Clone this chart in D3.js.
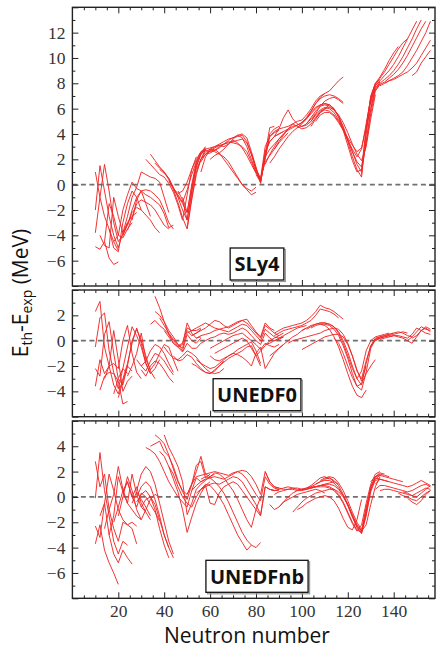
<!DOCTYPE html>
<html>
<head>
<meta charset="utf-8">
<script src="https://cdn.jsdelivr.net/npm/d3@7"></script>
<style>
  body { margin: 0; background: #fff; }
  .axisText { font-family: "Open Sans", sans-serif; fill: #111; }
</style>
</head>
<body>
<div id="chart"></div>
<script>
var svgWidth = 438;
var svgHeight = 648;

// Neutron number axis
var nDomain = [0, 158];
var xTickLabels = [20, 40, 60, 80, 100, 120, 140];

// Each chain: [first neutron number, residuals every 2 neutrons]
var sly4Chains = [
  [10, [1.0, -1.0, -2.5, -3.5, -4.5, -5.2]],
  [10, [-2.0, 1.5, -0.5, -2.5, -4.0, -5.0, -3.8]],
  [10, [-3.8, -1.0, 1.6, -0.5, -3.0, -4.5, -4.0, -3.0]],
  [10, [-4.9, -5.1, -4.5, -1.5, -2.5, -4.0, -4.2, -3.5, -3.0]],
  [12, [-4.0, -4.8, -5.0, -1.0, -2.5, -3.8, -3.0, -2.5, -2.2]],
  [14, [-4.5, -5.8, -6.3, -6.1]],
  [16, [-3.5, -5.0, -5.3, -3.0, -1.5, -0.5, -1.0, -2.0]],
  [18, [-4.5, -4.0, -2.0, -0.8, 0.2, -0.3, -0.5, -1.5, -2.5]],
  [22, [-3.8, -2.5, -1.0, -0.2, 1.0, 0.8, 0.6, 0.5, 0.2, -1.0, -2.2]],
  [22, [-4.0, -3.2, -2.0, -1.0, -0.5, -0.4, -0.5, -0.8, -1.2, -2.0, -3.0, -3.5]],
  [24, [-3.6, -2.6, -1.5, -1.2, -1.4, -1.6, -2.0, -2.6, -3.2, -3.5]],
  [24, [-3.2, -2.2, -1.8, -2.0, -2.4, -2.8, -3.4, -3.8]],
  [26, [-2.8, -1.2, -0.5, -0.8, -1.0, -1.3, -1.6, -2.3, -3.4, -3.2]],
  [32, [2.0, 1.6, 1.2, 0.8, 0.6, 0.1, -0.6, -1.6, -2.8, -0.8, 1.2, 2.2]],
  [34, [2.4, 1.9, 1.4, 1.0, 0.4, -0.4, -1.4, -2.6, -3.5, -1.2, 0.8, 2.0, 2.8]],
  [36, [1.7, 1.3, 1.0, 0.5, -0.2, -1.0, -2.0, -2.8, -0.6, 1.4, 2.4, 2.9]],
  [38, [1.2, 0.9, 0.5, -0.3, -0.9, -1.5, -2.2, -0.2, 1.6, 2.5, 3.0]],
  [42, [0.3, -0.3, -0.7, -0.5, 0.2, 1.2, 2.0, 2.6, 2.9]],
  [44, [-0.4, -0.8, -1.4, -0.4, 0.8, 1.8, 2.4, 2.7]],
  [46, [-0.5, -1.2, -2.8, -0.5, 1.5, 2.4, 2.8, 2.9, 3.0, 3.2, 3.4, 3.6, 3.7, 3.9, 4.0, 3.7, 2.6, 1.4, 0.1, 2.4, 4.5, 4.6]],
  [48, [-1.0, -2.2, 0.0, 1.8, 2.6, 2.7, 2.6, 2.7, 3.0, 3.2, 3.5, 3.7, 3.8, 3.9, 3.4, 2.4, 1.2, 0.3, 2.0, 4.0, 4.4, 4.6]],
  [50, [-3.4, -1.0, 1.0, 2.0, 2.4, 2.5, 2.7, 2.9, 3.2, 3.4, 3.3, 3.2, 3.0, 2.6, 1.8, 1.0, 0.2, 2.2, 3.8, 4.1, 4.3]],
  [56, [1.0, 2.2, 2.7, 2.8, 2.5, 2.0, 1.5, 1.0, 0.5, 0.0, -0.4, -0.8, -0.6]],
  [54, [1.2, 2.0, 2.6, 2.8, 2.6, 2.4, 2.2, 1.8, 1.2, 0.6, 0.0, -0.3, -0.5, -0.2]],
  [56, [1.8, 2.4, 2.7, 2.9, 3.1, 3.2, 3.3, 3.4, 3.5, 3.6, 3.3, 2.4, 1.3, 0.4, 2.5, 3.4, 3.8, 4.0, 4.2]],
  [58, [2.4, 2.8, 3.0, 3.1, 3.0, 3.2, 3.6, 3.9, 3.7, 3.0, 2.0, 1.0, 0.3, 2.2, 2.8, 3.2, 3.6, 4.0, 4.4]],
  [60, [2.0, 2.3, 2.5, 2.8, 3.2, 3.5, 3.3, 2.9, 2.3, 1.6, 0.9, 0.5, 1.8, 2.3, 2.8, 3.3, 3.7, 4.1]],
  [78, [2.5, 1.2, 0.5, 3.0, 3.8, 4.2, 4.4, 4.5, 4.6, 4.8, 5.0, 5.1, 5.5, 6.0, 6.6, 7.0, 7.2]],
  [80, [0.8, 0.2, 2.6, 3.4, 3.8, 4.0, 4.2, 4.4, 4.6, 4.7, 4.9, 5.3, 5.8, 6.4, 6.9, 7.2, 7.4, 7.8, 8.2, 8.5]],
  [84, [1.6, 2.4, 3.0, 3.6, 4.0, 4.3, 4.5, 4.7, 4.9, 5.2, 5.8, 6.4, 6.8, 7.0, 7.1, 7.0, 6.8, 6.5]],
  [86, [1.7, 2.2, 2.8, 3.3, 3.8, 4.2, 4.5, 4.6, 4.7, 5.0, 5.6, 6.2, 6.6, 6.8, 6.9, 6.7, 6.4]],
  [88, [2.8, 3.4, 3.9, 4.4, 4.8, 4.6, 4.4, 4.5, 4.8, 5.3, 5.8, 6.0, 6.3]],
  [88, [3.8, 4.4, 5.3, 5.9, 5.2, 4.8, 4.6, 4.8, 5.2, 5.6]],
  [100, [4.9, 5.2, 5.6, 6.0, 6.3, 6.4, 6.3, 6.0, 5.4, 4.5, 3.4, 2.2, 1.2, 0.6, 4.0, 6.6, 7.8, 8.2]],
  [102, [4.8, 5.3, 5.8, 6.2, 6.3, 6.2, 5.9, 5.4, 4.6, 3.6, 2.6, 1.6, 1.0, 3.4, 6.0, 7.6, 8.1]],
  [104, [5.0, 5.5, 5.9, 6.1, 6.0, 5.7, 5.1, 4.4, 3.5, 2.6, 1.8, 1.4, 3.2, 5.6, 7.4, 8.0]],
  [104, [4.6, 5.2, 5.7, 6.0, 6.1, 5.9, 5.5, 4.9, 4.1, 3.2, 2.4, 1.9, 3.0, 5.2, 7.1]],
  [106, [5.2, 5.7, 5.9, 5.8, 5.5, 5.0, 4.3, 3.5, 2.8, 2.2, 2.8, 4.8, 6.8, 7.9]],
  [106, [5.0, 5.5, 5.7, 5.7, 5.4, 4.9, 4.3, 3.7, 3.1, 2.6, 2.9, 4.5, 5.9]],
  [98, [4.5, 4.8, 5.2, 5.7, 6.1, 6.3, 6.4, 6.3, 6.0, 5.3, 4.3, 3.1, 1.9, 1.0, 1.2, 4.5, 7.0, 8.0, 8.3]],
  [126, [0.8, 4.2, 6.9, 8.0, 8.5, 9.1, 9.8, 10.4, 10.9]],
  [128, [4.6, 6.8, 7.9, 8.4, 8.9, 9.5, 10.1, 10.7, 11.2, 11.5]],
  [130, [6.4, 7.8, 8.2, 8.6, 9.0, 9.5, 10.1, 10.8, 11.5, 12.2, 12.9]],
  [130, [6.0, 7.6, 8.0, 8.3, 8.6, 9.0, 9.5, 10.1, 10.8, 11.5, 12.3, 13.0]],
  [132, [7.4, 7.9, 8.1, 8.4, 8.7, 9.1, 9.6, 10.2, 10.9, 11.6, 12.3, 12.9]],
  [134, [7.8, 8.0, 8.2, 8.4, 8.6, 8.9, 9.4, 10.0, 10.6, 11.3, 12.0, 12.9]],
  [136, [8.0, 8.2, 8.3, 8.5, 8.7, 8.9, 9.2, 9.6, 10.2, 10.8, 11.4]],
  [148, [8.6, 8.9, 9.6, 10.1, 10.6]]
];

var unedf0Chains = [
  [10, [2.3, 3.1, -0.5, -2.0, -3.5, -4.2, -3.0]],
  [10, [-0.5, 1.8, 2.2, -0.8, -2.5, -3.8, -2.2, -2.6]],
  [10, [-2.2, -2.8, 0.5, 1.5, -1.0, -3.0, -3.5, -2.0, -2.4]],
  [10, [-3.6, -1.5, -2.6, -2.0, 0.8, -1.5, -4.0, -3.2, -2.8]],
  [12, [-3.9, -2.8, -2.5, -2.6, -3.2, -5.0, -4.8]],
  [14, [-3.0, -2.0, -1.8, -2.2, 0.0, 1.2, -1.0, -2.5, -3.0]],
  [18, [-4.2, -3.0, -2.2, -0.5, 1.1, 0.4, -0.5, -1.8, -2.6]],
  [20, [-4.5, -3.2, -2.0, 0.0, 0.9, 0.0, -1.2, -2.4, -3.0]],
  [22, [-3.0, -1.8, -0.2, 1.0, -0.2, -1.8, -2.6, -2.2, -1.5]],
  [24, [-2.8, -2.0, -1.0, 0.6, -1.5, -2.3, -1.8, -1.0, -0.3, -0.5, -1.5, -2.4]],
  [28, [-1.5, -2.0, -1.6, -0.8, -0.3, -0.5, -1.0, -1.8, -2.5]],
  [30, [-2.0, -2.4, -1.6, -1.0, -1.2, -1.6, -2.2, -2.7]],
  [30, [-2.3, -2.8, -2.0, -1.6, -1.8, -2.3, -2.9, -3.3]],
  [36, [3.5, 2.6, 1.5, 0.5, -0.2, -0.5, -0.3, 1.4, 0.6, 0.2, 0.3]],
  [36, [2.3, 2.0, 1.5, 0.8, 0.3, -0.3, -0.6, 0.8, 0.4, 0.6, 0.9]],
  [34, [1.3, 1.6, 1.2, 0.9, 0.5, 0.0, -0.4, -0.2, 1.0, 0.8, 0.8, 1.0]],
  [38, [1.8, 1.2, 0.6, 0.1, -0.3, -0.8, 0.5, 0.0, -0.2, 0.2]],
  [40, [0.8, 0.3, -0.2, -0.5, -0.9, -0.2, -0.6, -0.6, -0.2]],
  [40, [-0.5, -1.0, -1.4, -1.5, -1.2, -0.8, -1.0, -1.3, -1.8, -2.2, -2.5, -2.6, -2.5, -2.2]],
  [44, [-1.2, -1.6, -1.5, -1.1, -1.3, -1.8, -2.2, -2.5, -2.6, -2.4, -2.0, -1.6]],
  [52, [-1.8, -2.0, -2.3, -2.5, -2.6, -2.3, -2.0, -1.7, -1.4, -1.2, -1.0, -0.8, -0.5, -0.4, -1.2, -2.0]],
  [54, [-1.5, -1.8, -2.0, -2.2, -2.1, -1.8, -1.5, -1.2, -1.0, -0.7, -0.5, -0.3, -0.1, -0.8, -1.8]],
  [60, [-1.2, -1.5, -1.6, -1.4, -1.2, -1.0, -1.1, -1.3, -1.6, -2.0, -1.0, -0.5, -2.2]],
  [50, [0.6, 0.8, 1.0, 1.2, 1.4, 1.2, 1.0, 0.9, 1.0, 1.1, 1.3, 1.5, 1.6, 1.7, 1.2, 0.7, 0.3, 1.4, 1.0, 0.8]],
  [52, [0.4, 0.6, 0.8, 1.0, 1.3, 1.6, 1.5, 1.2, 1.0, 1.2, 1.4, 1.6, 1.4, 1.0, 0.6, 0.2, 1.2, 0.9, 0.6, 0.4]],
  [54, [0.2, 0.4, 0.5, 0.6, 0.8, 0.9, 0.8, 0.7, 0.9, 1.1, 1.3, 1.2, 0.8, 0.4, 0.0, 0.9, 0.6, 0.3, 0.2, 0.3]],
  [56, [-0.2, 0.0, 0.2, 0.3, 0.5, 0.6, 0.5, 0.6, 0.8, 1.0, 0.8, 0.4, 0.0, -0.3, 0.6, 0.2, 0.0, 0.1, 0.3]],
  [60, [-0.6, -0.4, -0.2, 0.0, 0.2, 0.4, 0.5, 0.6, 0.3, 0.0, -0.3, -0.7, -0.2, -0.4, -0.5, -0.3]],
  [62, [-1.0, -0.8, -0.6, -0.4, -0.2, 0.0, 0.2, 0.0, -0.6, -1.2, -0.8, -0.4, 0.0, 0.2, 0.4, 0.6]],
  [84, [-0.3, -0.2, 0.0, 0.2, 0.4, 0.6, 0.8, 1.0, 1.1, 1.2]],
  [86, [-1.2, -0.9, -0.6, -0.3, 0.0, 0.3, 0.5, 0.8, 1.0]],
  [84, [-2.2, -1.6, -1.0, -0.6, -0.3]],
  [88, [0.6, 0.8, 1.0, 1.1, 1.2, 1.3, 1.4, 1.6, 1.9, 2.3, 2.8, 2.6, 2.5, 2.3, 2.0, 1.7]],
  [88, [0.4, 0.6, 0.8, 0.9, 1.0, 1.1, 1.2, 1.4, 1.6, 2.0, 2.5, 2.4, 2.3, 2.1, 1.8]],
  [94, [-0.2, 0.0, 0.1, 0.2, 0.3, 0.4, 0.5, 0.6, 0.8, 0.9, 1.0, 0.9, 0.5, -0.2, -1.2, -2.3, -3.2, -2.0]],
  [100, [0.8, 1.0, 1.2, 1.3, 1.4, 1.4, 1.3, 1.1, 0.6, -0.2, -1.2, -2.2, -3.0, -2.4, -0.8, 0.0, 0.3, 0.4, 0.5, 0.6]],
  [102, [0.9, 1.1, 1.3, 1.4, 1.4, 1.3, 1.1, 0.7, 0.0, -0.9, -2.0, -3.0, -3.5, -1.8, -0.4, 0.2, 0.3, 0.4, 0.5, 0.6]],
  [104, [1.0, 1.2, 1.3, 1.3, 1.2, 0.9, 0.4, -0.4, -1.4, -2.6, -3.6, -3.9, -2.5, -0.6, 0.1, 0.2, 0.3, 0.4]],
  [108, [1.3, 1.2, 0.9, 0.3, -0.5, -1.5, -2.6, -3.6, -4.3, -4.5, -3.9]],
  [114, [0.2, -0.2, -1.0, -2.0, -2.9, -3.6, -3.4, -2.6, -2.0, -1.5]],
  [100, [-0.7, -0.5, -0.3, -0.1, 0.1, 0.3, 0.4, 0.5, 0.5, 0.3, -0.3, -1.2, -2.4, -3.0, -1.6, -0.4, 0.0, 0.2]],
  [130, [-0.5, 0.1, 0.3, 0.4, 0.5, 0.6, 0.7, 0.6, 0.4, 0.3]],
  [132, [0.0, 0.2, 0.3, 0.4, 0.5, 0.6, 0.7, 0.6]],
  [134, [0.1, 0.2, 0.3, 0.4, 0.4, 0.3, 0.2, 0.5, 1.0, 0.8, 0.6, 0.5]],
  [138, [0.3, 0.4, 0.3, 0.2, 0.0, 0.3, 0.7, 1.1, 0.9, 0.8]],
  [146, [0.0, -0.2, 0.3, 0.8, 1.0, 0.7]],
  [148, [0.2, 0.4, 0.8, 1.1, 0.9]]
];

var unedfnbChains = [
  [10, [-3.7, -2.2, -4.2, -5.2, -6.0, -6.9]],
  [10, [-2.3, -3.2, -0.5, -3.0, -4.5, -5.2, -4.2, -4.8, -5.3]],
  [10, [-0.1, 3.5, 0.5, -1.5, -3.5, -4.5, -3.5, -3.8]],
  [10, [2.8, 0.8, 1.8, -1.0, -2.5, -3.5, -2.0, -2.2, -2.5, -3.7]],
  [12, [-1.5, -0.5, 1.8, 0.5, -1.0, -1.8, -2.2, -2.0, -2.3]],
  [14, [-2.5, -1.0, 0.2, 2.4, 0.6, -0.5, -1.0, -1.5, -1.8]],
  [16, [-3.0, -1.5, 1.6, 0.4, -0.5, 1.8, 0.2, -0.8, -1.2]],
  [18, [-2.0, -0.8, 0.5, 1.2, 0.0, 0.8, -0.5, -1.2, -1.8]],
  [20, [-1.5, 0.0, 1.6, 0.5, -1.0, -1.8, -1.0, -0.2, 0.2, 0.0]],
  [22, [0.3, 1.2, 0.0, -0.8, 0.3, 0.0, -0.6, -1.2, -1.9]],
  [28, [0.5, 1.8, 2.4, 2.0, 1.0, -0.5, -2.0, -3.5, -4.5]],
  [28, [0.0, 0.8, 1.2, 0.8, -0.2, -1.5, -3.0, -4.0, -4.8]],
  [28, [-0.4, 0.2, 0.5, 0.0, -1.0, -2.5, -3.8, -4.8]],
  [30, [-0.8, -0.2, 0.0, -0.6, -1.8, -3.0, -4.0]],
  [26, [-0.5, 0.4, -0.2, -0.8, -1.5]],
  [36, [4.9, 4.6, 4.2, 3.3, 2.2, 1.2, 0.5, 0.2, 1.0, 2.0, 3.2, 1.8, 1.6, 1.8]],
  [34, [4.0, 4.2, 4.4, 3.6, 3.2, 2.4, 1.3, 0.4, -0.2, 1.0, 2.5, 2.8, 1.5, 1.8]],
  [32, [3.9, 3.7, 3.4, 2.8, 2.0, 1.2, 0.6, 0.0, -0.4, -0.8, 0.5, 1.5, 1.2, 1.4]],
  [40, [4.9, 3.9, 3.2, 2.4, 1.2, -1.4, -0.5, 0.6, 1.0, 1.3, 1.6]],
  [38, [3.6, 3.2, 2.4, 1.4, 0.4, -1.0, -2.8, -1.6, -0.5, 0.3, 0.9, 1.2]],
  [42, [2.4, 1.8, 0.8, 0.0, -0.5, -0.8, 0.0, 0.6, 1.0]],
  [50, [0.2, 1.0, 1.6, 1.7, 1.8, 1.9, 2.0, 1.9, 1.8, 1.7, 1.9, 2.0, 2.1, 2.0, 1.6, 1.0, 0.2, 2.0, 1.2, 0.8, 0.7]],
  [52, [0.5, 0.9, 1.2, 1.4, 1.5, 1.6, 1.5, 1.4, 1.6, 1.8, 2.0, 1.8, 1.4, 0.8, 0.2, -0.3, 1.6, 1.0, 0.7, 0.6]],
  [54, [0.3, 0.6, 0.8, 1.0, 1.1, 1.0, 1.2, 1.4, 1.6, 1.5, 1.2, 0.6, 0.0, -0.6, -1.4, 0.8, 0.6, 0.5, 0.5]],
  [56, [0.6, 0.9, -0.5, -0.6, 0.3, 0.8, 1.0, 1.2, 1.0, 0.5, 0.0, -0.5, -1.0, -1.5, 0.8, 0.6, 0.5]],
  [60, [1.6, 1.9, 1.8, 1.5, 1.0, 0.5, -0.2, -1.0, -1.8, -2.4, -1.0, 0.0]],
  [56, [1.4, 1.6, 1.5, 1.2, 0.8, 0.3, -0.4, -1.2, -2.0, -2.8, -3.4, -3.8, -4.0, -3.6]],
  [58, [1.0, 0.9, 0.5, 0.0, -0.6, -1.4, -2.2, -3.0, -3.6, -4.2, -3.8]],
  [84, [2.0, 1.2, 0.8, 0.7, 0.6, 0.6, 0.7, 0.7, 0.6, 0.6, 0.7, 0.8, 0.9, 1.0, 1.1, 1.2, 1.0]],
  [86, [0.6, 0.5, 0.6, 0.7, 0.8, 0.7, 0.6, 0.6, 0.7, 0.9, 1.2, 1.5, 1.6, 1.4]],
  [88, [0.2, 0.4, 0.5, 0.6, 0.6, 0.5, 0.5, 0.6, 0.8, 1.0, 1.2, 1.4, 1.5, 1.2]],
  [90, [-0.8, -0.4, 0.0, 0.3, 0.5, 0.6, 0.6, 0.7, 0.8, 0.9, 0.9, 0.8, 0.6, 0.2, -0.4, -1.2, -2.0, -2.6, -2.8, -1.4, 0.4, 1.4, 1.7]],
  [96, [-1.2, -0.8, -0.4, -0.1, 0.1, 0.3, 0.4, 0.5, 0.6, 0.6, 0.4, 0.0, -0.6, -1.4, -2.2, -2.7, -2.2, -0.6, 0.8, 1.6]],
  [100, [0.6, 0.7, 0.8, 0.8, 0.8, 0.8, 0.7, 0.5, 0.1, -0.5, -1.3, -2.1, -2.7, -2.2, -0.5, 1.0, 1.8, 2.0]],
  [104, [0.7, 0.8, 0.9, 1.0, 1.0, 0.9, 0.6, 0.1, -0.6, -1.5, -2.4, -2.9, -1.5, 0.6, 1.6, 1.9, 1.8]],
  [106, [1.0, 1.2, 1.3, 1.3, 1.1, 0.7, 0.1, -0.7, -1.6, -2.4, -2.8, -1.0, 0.8, 1.5, 1.4]],
  [108, [1.3, 1.5, 1.5, 1.3, 0.9, 0.2, -0.6, -1.5, -2.3, -2.7, -0.8, 0.6, 1.3, 1.4, 1.3, 1.2]],
  [110, [1.5, 1.6, 1.5, 1.1, 0.5, -0.3, -1.2, -2.0, -2.6, -1.2, 0.8, 1.6, 1.8, 1.7, 1.6]],
  [98, [-1.0, -0.8, -0.5, -0.3, -0.1, 0.0, 0.1, 0.0, -0.3, -0.9, -1.7, -2.4, -2.6, -1.8, -0.2]],
  [86, [-0.6, -1.0, -0.8, -0.4, -0.2, 0.0, 0.2, 0.3, 0.4, 0.5, 0.6, 0.5, 0.3]],
  [130, [1.2, 1.6, 1.7, 1.6, 1.5, 1.4, 1.3, 1.2]],
  [132, [1.0, 1.4, 1.3, 1.2, 1.1, 1.0, 0.9, 0.8, 0.9, 1.1, 1.3, 1.1, 0.9]],
  [132, [0.6, 0.9, 0.9, 0.8, 0.7, 0.6, 0.5, 0.4, 0.5, 0.7, 0.9, 1.0, 0.8]],
  [134, [0.5, 0.6, 0.6, 0.5, 0.4, 0.3, 0.2, 0.1, 0.3, 0.5, 0.7, 0.6]],
  [142, [0.3, 0.1, 0.0, -0.2, -0.3, 0.0, 0.3, 0.5]],
  [146, [-0.1, -0.4, -0.6, -0.3, 0.2, 0.5]],
  [144, [0.4, 0.3, 0.1, 0.0, 0.3, 0.6, 0.9]]
];

// y ranges and labelled ticks of the three panels
var sly4Range = [-8, 14];
var unedf0Range = [-6, 4];
var unedfnbRange = [-8, 6];
var sly4Ticks = [-6, -4, -2, 0, 2, 4, 6, 8, 10, 12];
var unedf0Ticks = [-4, -2, 0, 2];
var unedfnbTicks = [-6, -4, -2, 0, 2, 4];
var panelNames = ["SLy4", "UNEDF0", "UNEDFnb"];

var panels = [
  { name: panelNames[0], chains: sly4Chains, range: sly4Range, ticks: sly4Ticks, top: 7.3, bottom: 286 },
  { name: panelNames[1], chains: unedf0Chains, range: unedf0Range, ticks: unedf0Ticks, top: 290, bottom: 416.7 },
  { name: panelNames[2], chains: unedfnbChains, range: unedfnbRange, ticks: unedfnbTicks, top: 420.9, bottom: 598.3 }
];

var svg = d3.select("#chart")
  .append("svg")
  .attr("width", svgWidth)
  .attr("height", svgHeight);

var xScale = d3.scaleLinear().domain(nDomain).range([72.4, 435]);
var xMinor = d3.range(5, 158, 5).filter(d => d % 20 !== 0);
var fmt = d => d < 0 ? "\u2212" + Math.abs(d) : String(d);
var serif = '"Liberation Serif", "DejaVu Serif", serif';

panels.forEach(function(p, i) {
  var yScale = d3.scaleLinear().domain(p.range).range([p.bottom, p.top]);
  var g = svg.append("g");
  var isLast = i === panels.length - 1;

  g.append("clipPath").attr("id", "clip" + i)
    .append("rect")
    .attr("x", xScale(nDomain[0])).attr("y", p.top)
    .attr("width", xScale(nDomain[1]) - xScale(nDomain[0]))
    .attr("height", p.bottom - p.top);

  // zero line
  g.append("line")
    .attr("x1", xScale(nDomain[0])).attr("x2", xScale(nDomain[1]))
    .attr("y1", yScale(0)).attr("y2", yScale(0))
    .attr("stroke", "#707070")
    .attr("stroke-width", 1.8)
    .attr("stroke-dasharray", "5,3.5");

  // isotopic chains
  var line = d3.line()
    .x(d => xScale(d[0]))
    .y(d => yScale(d[1]));

  g.append("g")
    .attr("clip-path", "url(#clip" + i + ")")
    .selectAll("path")
    .data(p.chains)
    .join("path")
    .attr("d", c => line(c[1].map((v, k) => [c[0] + 2 * k, v])))
    .attr("fill", "none")
    .attr("stroke", "#f02828")
    .attr("stroke-width", 0.95)
    .attr("stroke-linejoin", "round");

  // ticks on all four sides, pointing inward
  var yMajor = d3.range(Math.ceil(p.range[0] / 2) * 2, p.range[1] + 0.1, 2);
  var yMinor = d3.range(p.range[0], p.range[1] + 0.1, 1).filter(d => d % 2 !== 0);

  function style(sel) {
    sel.select(".domain").remove();
    sel.selectAll(".tick line").attr("stroke", "#222");
    sel.selectAll(".tick text")
      .style("font-family", serif)
      .style("font-size", "17.5px")
      .style("fill", "#333");
  }

  g.append("g").attr("transform", `translate(0, ${p.bottom})`)
    .call(d3.axisBottom(xScale).tickValues(xTickLabels).tickSize(-6).tickPadding(6)
      .tickFormat(isLast ? fmt : () => ""))
    .call(style);
  g.append("g").attr("transform", `translate(0, ${p.bottom})`)
    .call(d3.axisBottom(xScale).tickValues(xMinor).tickSize(-3).tickFormat(() => ""))
    .call(style);
  g.append("g").attr("transform", `translate(0, ${p.top})`)
    .call(d3.axisTop(xScale).tickValues(xTickLabels).tickSize(-6).tickFormat(() => ""))
    .call(style);
  g.append("g").attr("transform", `translate(0, ${p.top})`)
    .call(d3.axisTop(xScale).tickValues(xMinor).tickSize(-3).tickFormat(() => ""))
    .call(style);

  g.append("g").attr("transform", `translate(${xScale(nDomain[0])}, 0)`)
    .call(d3.axisLeft(yScale).tickValues(yMajor).tickSize(-6).tickPadding(7)
      .tickFormat(d => p.ticks.includes(d) ? fmt(d) : ""))
    .call(style);
  g.append("g").attr("transform", `translate(${xScale(nDomain[0])}, 0)`)
    .call(d3.axisLeft(yScale).tickValues(yMinor).tickSize(-3).tickFormat(() => ""))
    .call(style);
  g.append("g").attr("transform", `translate(${xScale(nDomain[1])}, 0)`)
    .call(d3.axisRight(yScale).tickValues(yMajor).tickSize(-6).tickFormat(() => ""))
    .call(style);
  g.append("g").attr("transform", `translate(${xScale(nDomain[1])}, 0)`)
    .call(d3.axisRight(yScale).tickValues(yMinor).tickSize(-3).tickFormat(() => ""))
    .call(style);

  // frame
  g.append("rect")
    .attr("x", xScale(nDomain[0])).attr("y", p.top)
    .attr("width", xScale(nDomain[1]) - xScale(nDomain[0]))
    .attr("height", p.bottom - p.top)
    .attr("fill", "none")
    .attr("stroke", "#222")
    .attr("stroke-width", 1.4);

  // functional name in a box
  var cx = 257, boxH = 32, boxBottom = p.bottom - 6;
  var shadow = g.append("rect");
  var box = g.append("rect");
  var label = g.append("text")
    .attr("class", "axisText")
    .attr("x", cx)
    .attr("y", boxBottom - boxH / 2)
    .attr("dy", "0.36em")
    .attr("text-anchor", "middle")
    .attr("font-size", "20px")
    .attr("font-weight", "bold")
    .text(p.name);
  var bb = label.node().getBBox();
  var boxW = bb.width + 8;
  shadow.attr("x", cx - boxW / 2 + 1.5).attr("y", boxBottom - boxH + 1.5)
    .attr("width", boxW).attr("height", boxH)
    .attr("fill", "none").attr("stroke", "#999").attr("stroke-width", 1.2);
  box.attr("x", cx - boxW / 2).attr("y", boxBottom - boxH)
    .attr("width", boxW).attr("height", boxH)
    .attr("fill", "#fff").attr("stroke", "#111").attr("stroke-width", 1.3);
});

// Create X-axis label
svg.append("text")
  .attr("class", "axisText")
  .attr("x", 247)
  .attr("y", 643)
  .attr("text-anchor", "middle")
  .attr("font-size", "21px")
  .text("Neutron number");

// Create Y-axis label
var yLabel = svg.append("text")
  .attr("class", "axisText")
  .attr("transform", "translate(28, 293) rotate(-90)")
  .attr("text-anchor", "middle")
  .attr("font-size", "21px");
yLabel.append("tspan").text("E");
yLabel.append("tspan").attr("font-size", "14px").attr("dy", 4).text("th");
yLabel.append("tspan").attr("dy", -4).text("-E");
yLabel.append("tspan").attr("font-size", "14px").attr("dy", 4).text("exp");
yLabel.append("tspan").attr("dy", -4).text(" (MeV)");
</script>
</body>
</html>
